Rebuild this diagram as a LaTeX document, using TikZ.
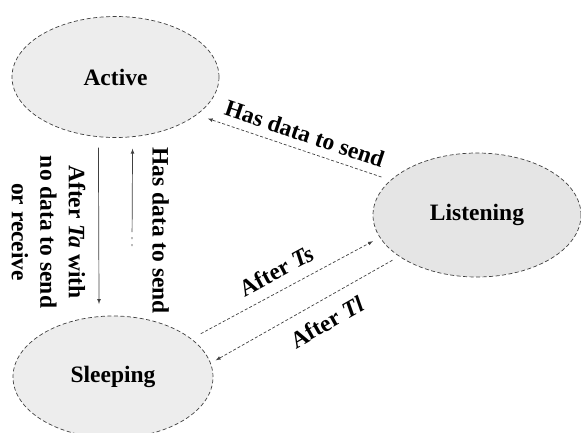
\documentclass[tikz,border=0pt]{standalone}
\usepackage{fontspec}
\setmainfont{Liberation Serif}
\usetikzlibrary{shapes.geometric}
\usetikzlibrary{positioning}

\begin{document}
\begin{tikzpicture}[x=1pt,y=-1pt,>=latex,
    font=\fontsize{23.5}{28.5}\selectfont\bfseries,
    state/.style={ellipse,draw=black!75,fill=black!7,line width=0.7pt,
      dash pattern=on 4pt off 2.5pt,outer sep=0pt,
      minimum width=207pt,minimum height=121pt},
    move/.style={->,draw=black!75,line width=0.7pt,dash pattern=on 3pt off 2pt},
    lbl/.style={inner sep=8pt}]
  \useasboundingbox (0,0) rectangle (581,432);

  % the three states
  \node[state] (active) at (115.5,77) {Active};
  \node[state,minimum width=200pt,minimum height=122pt] (sleeping) at (113,377) {Sleeping};
  \node[state,minimum width=208pt,minimum height=124pt,fill=black!10] (listening) at (477,215) {Listening};
  \coordinate (wake) at (132,246);

  % transitions
  \draw[move,shorten <=10pt,shorten >=12pt] (listening.158.9) -- node[lbl,pos=0.47,sloped,above] {Has data to send} (active.-25.5);
  \draw[move,solid,shorten <=11pt,shorten >=12.6pt] (active.-106) -- node[pos=0.53,rotate=-90,anchor=north,align=center,inner sep=13pt] {After \textit{Ta} with\\no data to send\\or receive} (sleeping.103.5);
  \draw[move,dash pattern=on 2pt off 5pt on 2pt off 5pt on 300pt off 1pt,shorten >=12pt] (wake) -- node[pos=0.14,rotate=-90,anchor=south,inner sep=20pt] {Has data to send} (active.-74.4);
  \draw[move,shorten <=11pt,shorten >=8pt] (sleeping.26.7) -- node[lbl,pos=0.5,sloped,above,inner sep=11pt] {After \textit{Ts}} (listening.-167.8);
  \draw[move,shorten <=8pt,shorten >=6pt] (listening.-152.2) -- node[lbl,pos=0.44,sloped,below,inner sep=13pt] {After \textit{Tl}} (sleeping.8.9);
\end{tikzpicture}
\end{document}
